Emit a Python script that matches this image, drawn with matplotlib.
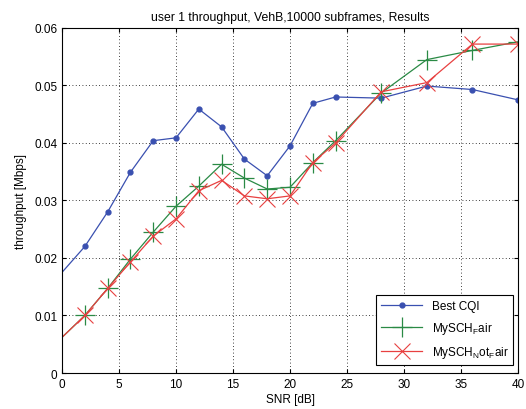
import matplotlib
matplotlib.use("Agg")
import matplotlib.pyplot as plt
import numpy as np

plt.rcParams['font.family'] = ['Liberation Sans', 'DejaVu Sans']
plt.rcParams['mathtext.default'] = 'regular'

snr = [0, 2, 4, 6, 8, 10, 12, 14, 16, 18, 20, 22, 24, 28, 32, 36, 40]
best_cqi = [0.0175, 0.0220, 0.0280, 0.0349, 0.0404, 0.0409, 0.0459, 0.0428, 0.0372,
            0.0343, 0.0395, 0.0469, 0.0480, 0.0478, 0.0499, 0.0493, 0.0475]
mysch_fair = [0.0062, 0.0100, 0.0147, 0.0198, 0.0245, 0.0290, 0.0325, 0.0363, 0.0339,
              0.0320, 0.0323, 0.0366, 0.0404, 0.0487, 0.0545, 0.0561, 0.0576]
mysch_notfair = [0.0062, 0.0100, 0.0147, 0.0193, 0.0238, 0.0268, 0.0317, 0.0335, 0.0308,
                 0.0303, 0.0308, 0.0366, 0.0400, 0.0489, 0.0505, 0.0572, 0.0572]

fig = plt.figure(figsize=(5.26, 4.10), dpi=100)
ax = fig.add_axes([0.1179, 0.0878, 0.8669, 0.8415])

# first sample sits on the axis edge, so no marker there
marks = list(range(1, len(snr)))
ax.plot(snr, best_cqi, color='#3a50b0', lw=0.9, marker='.', markersize=7,
        markevery=marks, label='Best CQI')
ax.plot(snr, mysch_fair, color='#2a8a45', lw=0.9, marker='+', markersize=15,
        markeredgewidth=0.9, markevery=marks, label=r'MySCH$_F$air')
ax.plot(snr, mysch_notfair, color='#e84040', lw=0.9, marker='x', markersize=11,
        markeredgewidth=0.8, markevery=marks, label=r'MySCH$_N$ot$_F$air')

ax.set_xlim(0, 40)
ax.set_ylim(0, 0.06)
ax.set_xticks(np.arange(0, 41, 5))
ax.set_yticks([0, 0.01, 0.02, 0.03, 0.04, 0.05, 0.06])
ax.set_yticklabels(['0', '0.01', '0.02', '0.03', '0.04', '0.05', '0.06'])
ax.tick_params(direction='in', labelsize=8.5, length=3, top=True, right=True)
ax.grid(True, linestyle=(0, (1, 3)), color='black', linewidth=0.6)
for s in ax.spines.values():
    s.set_linewidth(0.8)

ax.set_title('user 1 throughput, VehB,10000 subframes, Results', fontsize=8.8, pad=6)
ax.set_xlabel('SNR [dB]', fontsize=8.5, labelpad=2)
ax.set_ylabel('throughput [Mbps]', fontsize=8.5, labelpad=5)

leg = ax.legend(loc='lower right', bbox_to_anchor=(0.99, 0.023), borderaxespad=0,
                fontsize=8.5, fancybox=False, framealpha=1, edgecolor='black',
                handlelength=3.5, labelspacing=0.7)
leg.get_frame().set_linewidth(0.8)

fig.savefig('out.png', dpi=100)
